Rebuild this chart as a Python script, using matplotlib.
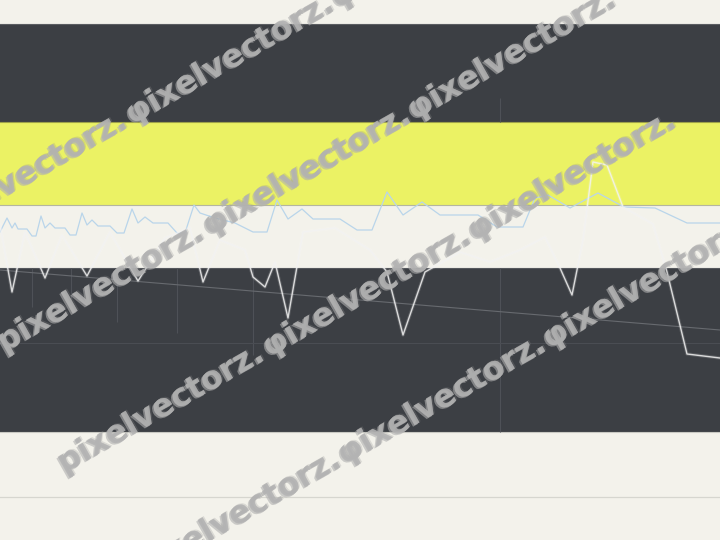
import matplotlib
matplotlib.use("Agg")
import matplotlib.pyplot as plt
import matplotlib.patheffects as pe
import numpy as np

# horizontal bands (edges on the vertical scale, top to bottom) and their colours
band_edges = [0, 24, 122, 205, 268, 432, 540]
band_colors = ["#f3f2eb", "#3c3f44", "#ebf264", "#f3f2eb", "#3c3f44", "#f3f2eb"]
edge_rules = [24, 122, 205, 268, 432]
edge_colors = ["#5a5d61", "#9ea24a", "#b4b6a0", "#55585d", "#c9c9c3"]
base_rule = 497

# blue series
blue_x = [0, 7, 12, 15, 18, 27, 32, 36, 41, 45, 50, 55, 65, 70, 76, 82, 87, 92, 98, 110,
          117, 124, 132, 138, 145, 153, 168, 177, 185, 194, 200, 215, 235, 253, 267, 277,
          288, 302, 313, 340, 357, 372, 387, 403, 422, 440, 478, 497, 523, 535, 548, 570,
          598, 624, 655, 687, 720]
blue_y = [232, 218, 228, 223, 229, 229, 236, 236, 216, 228, 223, 228, 228, 235, 235, 213,
          225, 220, 226, 226, 233, 233, 209, 223, 217, 223, 223, 233, 233, 205, 213, 218,
          223, 232, 232, 200, 219, 209, 219, 219, 230, 230, 192, 215, 202, 215, 215, 227,
          227, 198, 195, 208, 193, 207, 208, 223, 223]

# white series with dips
white_x = [0, 12, 25, 45, 62, 87, 110, 138, 165, 190, 203, 220, 245, 253, 265, 275, 288,
           303, 335, 370, 387, 403, 425, 460, 490, 520, 545, 560, 572, 583, 593, 607, 623,
           653, 667, 687, 720]
white_y = [225, 292, 232, 278, 235, 276, 232, 281, 238, 228, 282, 240, 250, 277, 287, 262,
           318, 232, 228, 250, 272, 335, 272, 252, 262, 250, 237, 268, 295, 240, 162, 165,
           207, 224, 272, 354, 358]

# trend line
trend_x = [0, 720]
trend_y = [270, 330]

# faint grid (only shows on the dark bands)
grid_x = [32, 71, 117, 177, 253, 500, 500]
grid_top = [268, 268, 268, 268, 268, 268, 98]
grid_bottom = [307, 300, 322, 333, 355, 432, 122]
grid_h = [343]

# watermark rows: level at left edge and start of each copy
wm_text = "pixelvectorz."
wm_rows = [190, 345, 500, 650]
wm_starts = [[-77, 128, 333], [0, 205, 410], [60, 265, 470], [-70, 135, 340, 545]]
wm_angle = 29.5

fig = plt.figure(figsize=(7.2, 5.4), dpi=100)
ax = fig.add_axes([0, 0, 1, 1])
ax.set_xlim(0, 720)
ax.set_ylim(540, 0)
ax.axis("off")

for top, bottom, c in zip(band_edges[:-1], band_edges[1:], band_colors):
    ax.axhspan(top, bottom, color=c, lw=0, zorder=0)
for y, c in zip(edge_rules, edge_colors):
    ax.axhline(y, color=c, lw=0.8, zorder=1)
ax.axhline(base_rule, color="#d6d6cf", lw=0.9, zorder=1)

ax.vlines(grid_x, grid_top, grid_bottom, color="#4e5157", lw=0.8, zorder=1)
for y in grid_h:
    ax.axhline(y, color="#4a4d53", lw=0.8, zorder=1)

ax.plot(trend_x, trend_y, color="#676a6f", lw=0.8, zorder=2)
ax.plot(blue_x, blue_y, color="#b9d5ea", lw=0.9, zorder=3)
ax.plot(white_x, white_y, color="#f2f2f2", alpha=0.85, lw=1.0, zorder=3,
        path_effects=[pe.withStroke(linewidth=2.4, foreground="white", alpha=0.15)])

tan = np.tan(np.radians(wm_angle))
for c, starts in zip(wm_rows, wm_starts):
    for i, x0 in enumerate(starts):
        label = wm_text if i == 0 else "φ" + wm_text[1:]
        ax.text(x0, c - tan * x0, label, rotation=wm_angle, rotation_mode="anchor",
                ha="left", va="center", fontsize=23, fontweight="bold",
                color="#b4b4b4", alpha=0.5, zorder=5,
                path_effects=[pe.withSimplePatchShadow(offset=(-1.1, -1.1),
                                                       shadow_rgbFace="#b0b0b0", alpha=0.6),
                              pe.withSimplePatchShadow(offset=(0.9, 0.9),
                                                       shadow_rgbFace="#909090", alpha=0.25),
                              pe.Normal()])

fig.savefig("out.png", dpi=100)
